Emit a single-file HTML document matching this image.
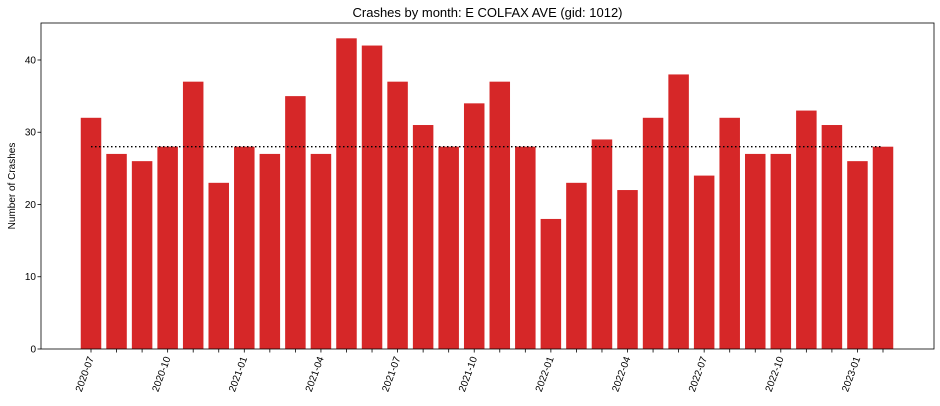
<!DOCTYPE html>
<html><head><meta charset="utf-8">
<style>
body{margin:0;background:#fff;}
svg{display:block;font-family:"Liberation Sans","DejaVu Sans",sans-serif;}
</style></head>
<body>
<svg id="chart" width="940" height="406"></svg>
<script>
const months=["2020-07","2020-08","2020-09","2020-10","2020-11","2020-12","2021-01","2021-02","2021-03","2021-04","2021-05","2021-06","2021-07","2021-08","2021-09","2021-10","2021-11","2021-12","2022-01","2022-02","2022-03","2022-04","2022-05","2022-06","2022-07","2022-08","2022-09","2022-10","2022-11","2022-12","2023-01","2023-02"];
const crashes=[32,27,26,28,37,23,28,27,35,27,43,42,37,31,28,34,37,28,18,23,29,22,32,38,24,32,27,27,33,31,26,28];
const yTicks=[0,10,20,30,40];
const refLineValue=28;

const NS="http://www.w3.org/2000/svg";
const svg=document.getElementById('chart');
const L=41,R=934,T=23,B=349,yMax=45.12;
const x0=91,step=(883-91)/31,bw=20.5;
function xs(i){return x0+i*step;}
function ys(v){return B-(v/yMax)*(B-T);}
function el(tag,attrs,parent){const e=document.createElementNS(NS,tag);for(const k in attrs)e.setAttribute(k,attrs[k]);(parent||svg).appendChild(e);return e;}

const title=el('text',{x:(L+R)/2,y:17,'text-anchor':'middle','font-size':'13',fill:'#000'});
title.textContent='Crashes by month: E COLFAX AVE (gid: 1012)';



crashes.forEach((v,i)=>{
  const r=el('rect',{x:xs(i)-bw/2,y:ys(v),width:bw,height:B-ys(v),fill:'#d62728'});
  
  
});

const ref=el('line',{x1:xs(0),x2:xs(crashes.length-1),y1:ys(refLineValue),y2:ys(refLineValue),stroke:'#000','stroke-width':1.4,'stroke-dasharray':'1.5,2.5'});



const frame=el('rect',{x:L,y:T,width:R-L,height:B-T,fill:'none',stroke:'#000','stroke-width':0.8});



yTicks.forEach(t=>{
  const y=ys(t);
  const tk=el('line',{x1:L-3.5,x2:L,y1:y,y2:y,stroke:'#000','stroke-width':0.8});
  
  
  const tx=el('text',{x:L-5,y:y+3.5,'text-anchor':'end','font-size':'10',fill:'#000'});
  tx.textContent=t;
  
  
});

months.forEach((m,i)=>{
  const x=xs(i);
  const tk=el('line',{x1:x,x2:x,y1:B,y2:B+3.5,stroke:'#000','stroke-width':0.8});
  
  
  if(i%3===0){
    const tx=el('text',{x:x+3,y:B+9,'text-anchor':'end','font-size':'10',fill:'#000',transform:`rotate(-70 ${x+3} ${B+9})`});
    tx.textContent=m;
    
    
  }
});

const yl=el('text',{x:15,y:(T+B)/2,'text-anchor':'middle','font-size':'10',fill:'#000',transform:`rotate(-90 15 ${(T+B)/2})`});
yl.textContent='Number of Crashes';


</script>
</body></html>
